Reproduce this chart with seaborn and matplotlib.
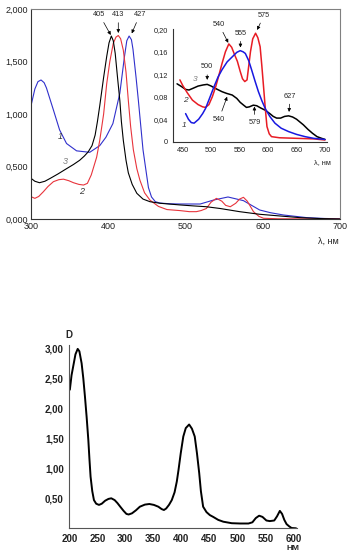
import numpy as np
import pandas as pd
import matplotlib
matplotlib.use('Agg')
import matplotlib.pyplot as plt
import seaborn as sns

# --- main spectra (300-700 nm) ---
blue_nm = [300, 305, 309, 313, 317, 320, 329, 337, 346, 359, 376, 389, 397, 406, 415, 421, 424,
           427, 430, 432, 436, 439, 445, 452, 456, 461, 467, 480, 493, 519, 536, 555, 575, 596,
           610, 627, 657, 680, 700]
blue_d = [1.08, 1.24, 1.31, 1.326, 1.30, 1.25, 1.04, 0.85, 0.72, 0.65, 0.636, 0.70, 0.78, 0.91,
          1.2, 1.55, 1.70, 1.745, 1.71, 1.62, 1.35, 1.13, 0.66, 0.30, 0.21, 0.165, 0.152, 0.145,
          0.143, 0.143, 0.18, 0.21, 0.175, 0.086, 0.06, 0.038, 0.013, 0.005, 0.002]

red_nm = [300, 305, 310, 316, 322, 329, 336, 342, 349, 355, 362, 368, 373, 378, 385, 389, 394,
          398, 402, 406.5, 410, 413, 416, 419.5, 423, 426, 429, 432.5, 437, 441, 447, 454, 465,
          476, 493, 505, 514, 520, 527, 533, 540, 547, 552, 558, 565, 570, 575, 580, 588, 595,
          601, 620, 700]
red_d = [0.213, 0.197, 0.215, 0.26, 0.31, 0.356, 0.375, 0.38, 0.365, 0.346, 0.33, 0.324, 0.34,
         0.42, 0.59, 0.75, 1.0, 1.29, 1.5, 1.675, 1.735, 1.75, 1.72, 1.61, 1.4, 1.13, 0.88, 0.66,
         0.48, 0.37, 0.25, 0.18, 0.12, 0.09, 0.08, 0.07, 0.07, 0.08, 0.10, 0.16, 0.197, 0.17,
         0.13, 0.117, 0.15, 0.19, 0.207, 0.17, 0.07, 0.025, 0.007, 0.002, 0.0]

black_nm = [300, 305, 311, 318, 325, 335, 346, 355, 363, 369, 374, 379, 383, 386, 389, 394, 398,
            401, 404, 406.5, 409, 412, 415, 417, 419.5, 423, 426, 431, 437, 445, 454, 467, 493,
            510, 527, 545, 570, 596, 622, 648, 675, 700]
black_d = [0.388, 0.36, 0.346, 0.36, 0.388, 0.43, 0.48, 0.52, 0.56, 0.6, 0.64, 0.7, 0.8, 0.93,
           1.08, 1.35, 1.55, 1.68, 1.745, 1.7, 1.58, 1.35, 1.13, 0.93, 0.75, 0.56, 0.44, 0.33,
           0.245, 0.19, 0.165, 0.15, 0.134, 0.125, 0.117, 0.10, 0.07, 0.045, 0.029, 0.013,
           0.004, 0.0]

# --- inset (450-700 nm) ---
in_blue_nm = [455, 460, 465, 470, 478, 485, 490, 497, 505, 512, 519, 528, 537, 545, 551, 556,
              560, 566, 571, 577, 583, 589, 595, 603, 612, 623, 636, 650, 665, 680, 700]
in_blue_d = [0.050, 0.040, 0.034, 0.033, 0.040, 0.050, 0.059, 0.077, 0.098, 0.115, 0.128, 0.142,
             0.151, 0.159, 0.162, 0.160, 0.157, 0.144, 0.128, 0.108, 0.089, 0.073, 0.059, 0.045,
             0.033, 0.024, 0.018, 0.013, 0.009, 0.006, 0.004]

in_red_nm = [445, 450, 458, 467, 477, 485, 490, 496, 502, 508, 514, 519, 525, 531, 536, 541, 546,
             551, 555, 559, 563, 566, 569, 573, 578, 582, 586, 589, 592, 595, 598, 602, 606, 620,
             650, 680, 700]
in_red_d = [0.110, 0.100, 0.087, 0.074, 0.066, 0.062, 0.061, 0.066, 0.080, 0.098, 0.120, 0.139,
            0.160, 0.174, 0.168, 0.155, 0.143, 0.125, 0.112, 0.107, 0.110, 0.135, 0.160, 0.183,
            0.193, 0.185, 0.169, 0.135, 0.098, 0.060, 0.027, 0.014, 0.009, 0.007, 0.006, 0.005,
            0.003]

in_black_nm = [440, 448, 455, 461, 468, 477, 486, 493, 500, 507, 513, 519, 527, 537, 545, 551,
               557, 562, 567, 574, 580, 587, 595, 603, 609, 615, 622, 629, 636, 643, 650, 656,
               662, 670, 678, 686, 694, 700]
in_black_d = [0.103, 0.098, 0.093, 0.092, 0.095, 0.099, 0.101, 0.102, 0.099, 0.095, 0.092, 0.089,
              0.086, 0.083, 0.077, 0.070, 0.065, 0.061, 0.062, 0.065, 0.064, 0.060, 0.056, 0.050,
              0.045, 0.042, 0.042, 0.045, 0.046, 0.044, 0.040, 0.035, 0.030, 0.022, 0.015, 0.009,
              0.006, 0.004]

# --- lower spectrum (200-600 nm) ---
low_nm = [201, 204, 208, 211, 215, 218, 222, 225, 228, 231, 234, 236, 238, 241, 244, 248, 253,
          258, 264, 270, 275, 281, 286, 291, 297, 302, 306, 312, 319, 326, 335, 343, 351, 359,
          365, 369, 373, 378, 383, 388, 392, 395, 399, 403.6, 408, 414, 419, 424, 428, 432, 435,
          439, 445, 451, 457, 466, 475, 490, 505, 520, 527, 533, 539, 545, 552, 558, 566, 571,
          576, 580, 584, 588, 593, 597, 605]
low_d = [2.31, 2.55, 2.75, 2.9, 2.99, 2.95, 2.75, 2.5, 2.19, 1.85, 1.47, 1.15, 0.86, 0.62, 0.47,
         0.41, 0.39, 0.41, 0.46, 0.49, 0.50, 0.47, 0.42, 0.36, 0.29, 0.24, 0.23, 0.25, 0.30, 0.36,
         0.395, 0.405, 0.39, 0.36, 0.32, 0.305, 0.33, 0.39, 0.47, 0.60, 0.78, 0.97, 1.25, 1.53,
         1.67, 1.73, 1.66, 1.53, 1.25, 0.92, 0.62, 0.36, 0.27, 0.22, 0.19, 0.14, 0.11, 0.085,
         0.08, 0.08, 0.10, 0.17, 0.21, 0.19, 0.13, 0.12, 0.13, 0.20, 0.29, 0.24, 0.14, 0.07, 0.03,
         0.005, 0.0]

main_xticks = [300, 400, 500, 600, 700]
main_yticks = [0, 0.5, 1.0, 1.5, 2.0]
main_ylabels = ['0,000', '0,500', '1,000', '1,500', '2,000']
inset_xticks = [450, 500, 550, 600, 650, 700]
inset_yticks = [0, 0.04, 0.08, 0.12, 0.16, 0.20]
inset_ylabels = ['0', '0,04', '0,08', '0,12', '0,16', '0,20']
low_xticks = [200, 250, 300, 350, 400, 450, 500, 550, 600]
low_yticks = [0.5, 1.0, 1.5, 2.0, 2.5, 3.0]
low_ylabels = ['0,50', '1,00', '1,50', '2,00', '2,50', '3,00']

sns.set_style('white')
plt.rcParams['font.family'] = ['Liberation Sans', 'DejaVu Sans']

W, H = 350, 556
fig = plt.figure(figsize=(W / 100, H / 100), dpi=100)


def px_axes(l, t, r, b):
    return fig.add_axes([l / W, 1 - b / H, (r - l) / W, (b - t) / H])


BLUE = '#3030cc'
RED = '#e8343c'
GRAY = '#808080'

# ---------- main chart ----------
ax = px_axes(31, 9.3, 340, 219)
sns.lineplot(x=blue_nm, y=blue_d, ax=ax, color=BLUE, lw=0.8, estimator=None)
sns.lineplot(x=red_nm, y=red_d, ax=ax, color=RED, lw=0.8, estimator=None)
sns.lineplot(x=black_nm, y=black_d, ax=ax, color='black', lw=0.8, estimator=None)
ax.set_xlim(300, 700)
ax.set_ylim(0, 2.0)
ax.set_xticks(main_xticks)
ax.set_xticklabels([str(v) for v in main_xticks])
ax.set_yticks(main_yticks)
ax.set_yticklabels(main_ylabels)
ax.tick_params(direction='in', length=2, width=0.6, labelsize=6.5, pad=2, colors='#222222')
for s in ['left', 'bottom']:
    ax.spines[s].set_color('#333333')
    ax.spines[s].set_linewidth(0.8)
for s in ['top', 'right']:
    ax.spines[s].set_color(GRAY)
    ax.spines[s].set_linewidth(0.8)
ax.set_xlabel('')
ax.set_ylabel('')

arrow = dict(arrowstyle='-|>', lw=0.5, color='black', mutation_scale=5, shrinkA=1, shrinkB=0)
for txt, xy, xytext in [('405', (403.2, 1.755), (388.4, 1.95)),
                        ('413', (413, 1.774), (413, 1.95)),
                        ('427', (430.4, 1.77), (441, 1.95))]:
    ax.annotate(txt, xy=xy, xytext=xytext, fontsize=5.3, ha='center', va='center',
                arrowprops=arrow)
for txt, x, y, c in [('1', 337.5, 0.785, '#333333'), ('3', 344, 0.546, GRAY),
                     ('2', 365.6, 0.26, '#333333')]:
    ax.text(x, y, txt, fontsize=6.5, style='italic', color=c, ha='center', va='center')
fig.text(328 / W, 1 - 241.7 / H, 'λ, нм', fontsize=6.5, ha='center', va='center')

# ---------- inset ----------
ins = px_axes(172.5, 29.3, 326.7, 141.7)
ins.set_facecolor('none')
sns.lineplot(x=in_black_nm, y=in_black_d, ax=ins, color='black', lw=1.1, estimator=None)
sns.lineplot(x=in_red_nm, y=in_red_d, ax=ins, color='#e81c24', lw=1.1, estimator=None)
sns.lineplot(x=in_blue_nm, y=in_blue_d, ax=ins, color='#1818e0', lw=1.1, estimator=None)
ins.set_xlim(432, 703)
ins.set_ylim(0, 0.2)
ins.set_xticks(inset_xticks)
ins.set_xticklabels([str(v) for v in inset_xticks])
ins.set_yticks(inset_yticks)
ins.set_yticklabels(inset_ylabels)
ins.tick_params(direction='out', length=2, width=0.6, labelsize=5.3, pad=1.5, colors='#222222')
for s in ['top', 'right']:
    ins.spines[s].set_visible(False)
for s in ['left', 'bottom']:
    ins.spines[s].set_color('#333333')
    ins.spines[s].set_linewidth(0.8)
ins.set_xlabel('')
ins.set_ylabel('')

for txt, xy, xytext in [('540', (530, 0.176), (513.5, 0.209)),
                        ('555', (551.4, 0.1676), (551.4, 0.193)),
                        ('575', (580.7, 0.1988), (593, 0.2254)),
                        ('500', (493, 0.11), (493, 0.1335)),
                        ('540', (528, 0.08), (513.5, 0.040)),
                        ('579', (576, 0.0626), (576, 0.034)),
                        ('627', (636.8, 0.053), (638.6, 0.0813))]:
    ins.annotate(txt, xy=xy, xytext=xytext, fontsize=5.3, ha='center', va='center',
                 arrowprops=arrow, annotation_clip=False)
for txt, x, y, c in [('3', 471.4, 0.11, GRAY), ('2', 453.9, 0.074, '#333333'),
                     ('1', 452, 0.028, '#333333')]:
    ins.text(x, y, txt, fontsize=6, style='italic', color=c, ha='center', va='center')
fig.text(322 / W, 1 - 163 / H, 'λ, нм', fontsize=5.3, ha='center', va='center')

# ---------- lower chart ----------
low = px_axes(69.3, 345.3, 297.2, 528.3)
sns.lineplot(x=low_nm, y=low_d, ax=low, color='black', lw=1.4, estimator=None)
low.set_xlim(200, 607)
low.set_ylim(0, 3.05)
low.set_xticks(low_xticks)
low.set_xticklabels([str(v) for v in low_xticks])
low.set_yticks(low_yticks)
low.set_yticklabels(low_ylabels)
low.tick_params(direction='out', length=2.5, width=0.6, labelsize=7, pad=1.5, colors='#222222')
for lab in low.get_xticklabels() + low.get_yticklabels():
    lab.set_fontweight('bold')
for s in ['top', 'right']:
    low.spines[s].set_visible(False)
for s in ['left', 'bottom']:
    low.spines[s].set_color('#555555')
    low.spines[s].set_linewidth(0.8)
low.set_xlabel('')
low.set_ylabel('')
fig.text(69 / W, 1 - 335 / H, 'D', fontsize=7, fontweight='bold', ha='center', va='center')
fig.text(293 / W, 1 - 548 / H, 'НМ', fontsize=6, fontweight='bold', ha='center', va='center')

fig.savefig('out.png', dpi=100)
